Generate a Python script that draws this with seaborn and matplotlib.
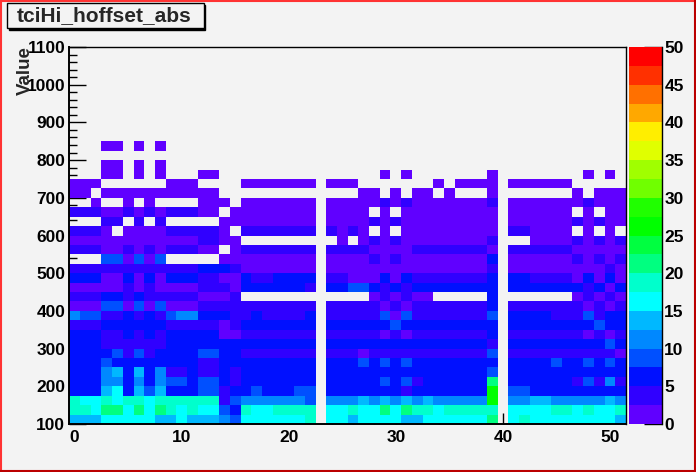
"""tciHi_hoffset_abs occupancy map, drawn with seaborn in the look of a ROOT canvas."""

import matplotlib

matplotlib.use("Agg")

import matplotlib.pyplot as plt
import numpy as np
import pandas as pd
import seaborn as sns
from matplotlib.colors import ListedColormap
from matplotlib.lines import Line2D
from matplotlib.patches import Rectangle

TITLE = "tciHi_hoffset_abs"
Y_LABEL = "Value"

# one colour per 2.5 wide z level, from 0 up to 50
LEVEL_COLORS = [
    "#6000ff", "#3000ff", "#0010ff", "#0050ff", "#0088ff",
    "#00b8ff", "#00ffff", "#00ffcc", "#00ff80", "#00ff40",
    "#00ff00", "#20ff00", "#70ff00", "#a0ff00", "#e0ff00",
    "#ffee00", "#ffa800", "#ff7000", "#ff3000", "#ff0000",
]

# z value read for each letter in the rows below, "." is an empty bin
CELL_VALUES = {"a": 1, "b": 4, "c": 6, "d": 9, "e": 11, "f": 14, "g": 16, "h": 19, "i": 21, "j": 24, "k": 26, ".": np.nan}

X_BINS = list(range(52))
X_TICKS = [0, 10, 20, 30, 40, 50]
X_MINOR = [v for v in range(0, 52, 2) if v % 10]
Y_TICKS = list(range(100, 1101, 100))
Y_MINOR = [v for v in range(100, 1100, 20) if v % 100]
Z_TICKS = list(range(0, 51, 5))

# bin lower edges, top of the picture first
Y_EDGES = list(range(1075, 75, -25))

ROWS = [
    "", "", "", "", "", "", "", "", "", "",
    "...aa.a.a. .......... .......... .......... .......... ..",
    ".......... .......... .......... .......... .......... ..",
    "...aa.a.a. .......... .......... .......... .......... ..",
    "...aa.a.a. ..aa...... .........a .a.......a ........a. a.",
    "aaa......a aa....aaaa aaa.aaa... ....a.aaaa .aaaaaa... ..",
    "aa.aaaaaaa aaaa...... .......aa. a.aa.a...a .......a.a aa",
    "..a..a.a.. ..aaa.aaaa aaa.aaaaab abaaaaaaab .aaaaaaaba aa",
    "bbbaababab bbaa.aaaaa aaa.aaaa.a .aaaaaaaaa .aaaaaa.a. aa",
    "...bb.b.b. ....aaaaaa aaa.aaaaba baaaaaaaaa .aaaaaabab aa",
    "bbba.aaaab bbbba.bbbb bbb.baba.a .aaaaaaaaa .bbaaaa.a. a.",
    "aaaaaaaaaa aabbaa.... .....a.aba baaaaaaaab ...aaaabab ab",
    "bbbaababab bbaa.abbbb bbb.bbbbaa aabbbbbbba .bbbbbbaaa aa",
    "...ddadad. ....aaaaaa aaa.aaaaba baaaaaaaac .aaaaaabab ab",
    "bbbbbbbbbb bbcccbaaaa aaa.aaaaaa aaaaaaaaab .aaaaaaaaa ba",
    "cccaacacac ccbbaacbbc ccc.bbaaac acbbbbbbbc .ccbbbbaca ca",
    "aaaaababaa aabbbacccc ccb.ccddcb cbcccccccc .cccccccbc ac",
    "bbbccbcbbb bbaaab.... ........ab abaa.....c .......aba ba",
    "aaaddadada aabbbbbbbb bbb.bbbbba babbbbbbbc .bbbbbbbab ab",
    "eddbbcbcbd eecccbbcbb bbc.bbbbbd adbbbbbbbd .ccccbbbdb cc",
    "bbbccccccb bbbbabcccc ccc.cccccc dccccccccc .ccccccccd cc",
    "cccbbcbcbc ccccaabbbb bbb.bbbbba babbbbbbbc .bbbbbbbab ab",
    "cccbbbbbbc cccccccccc ccc.cccccc cccccccccb .ccccccccc dc",
    "ccccdbdbcc ccddccbbbb bbb.bbbabb bbbbbbbbbd .bbbbbbbbb ba",
    "cccdcccccc ccbbcccccc ccc.cccdcd cdcccccccc .ccccdccdc dc",
    "cccefcfceb bcbbcbcccc ccc.cccccc cccccccccd .ccccccccc cc",
    "ccceececed dcddcbcccc ccc.cccccd cdbcccccci .ccccccbdb eb",
    "cccfgcfdfc ccddbccdcc cdd.cccccc cbccccccck .ddccccccc cc",
    "hgghghhghh hhhhbdeeee eed.eeefef efefeeeeek .eeffeeeee fe",
    "hhgiigigih ghggdchggh hhh.gghggi gihhghhhhh .gggghhghg gh",
    "fffgggggff gfffedgggg ggh.ggfggg gffggggggi .ghggggggg gf",
]

W, H = 696, 472
BG = "#f3f3f3"
FONT = ["Liberation Sans", "DejaVu Sans"]
LABEL_SIZE = 12.5


def px_rect(x0, y0, x1, y1):
    """Figure fraction [left, bottom, width, height] from pixel corners, y measured from the top."""
    return [x0 / W, 1 - y1 / H, (x1 - x0) / W, (y1 - y0) / H]


def parse_rows():
    """Turn the letter rows into a table of z values, lowest bin first."""
    table = []
    for row in ROWS:
        cells = row.replace(" ", "") or "." * len(X_BINS)
        assert len(cells) == len(X_BINS), row
        table.append([CELL_VALUES[c] for c in cells])
    df = pd.DataFrame(table, index=Y_EDGES, columns=X_BINS)
    return df.sort_index()


def y_pos(value):
    return (value - 100) / 25


def draw_canvas(fig):
    """Title box and the raised red canvas border."""
    for x0, y0, x1, y1, face, edge in [
        (8.5, 4.5, 205, 29.5, "black", "black"),
        (6.5, 2.5, 203.5, 27.5, BG, "black"),
    ]:
        fig.add_artist(Rectangle((x0 / W, 1 - y1 / H), (x1 - x0) / W, (y1 - y0) / H,
                                 transform=fig.transFigure, facecolor=face, edgecolor=edge, linewidth=1))
    fig.text(17 / W, 1 - 15.5 / H, TITLE, fontsize=15, fontweight="bold", va="center", ha="left", family=FONT)

    for xs, ys, color in [
        ((1, 1), (0, H), "#ff3333"),
        ((0, W), (H - 1, H - 1), "#ff3333"),
        ((W - 1, W - 1), (0, H), "#bb0000"),
        ((0, W), (1, 1), "#bb0000"),
    ]:
        fig.add_artist(Line2D(np.array(xs) / W, np.array(ys) / H, color=color, linewidth=1.5,
                              transform=fig.transFigure))


def main():
    data = parse_rows()

    sns.set_theme(style="white")
    plt.rcParams["font.family"] = FONT
    plt.rcParams["axes.facecolor"] = BG
    plt.rcParams["figure.facecolor"] = BG

    fig = plt.figure(figsize=(W / 100, H / 100), dpi=100)
    ax = fig.add_axes(px_rect(69.3, 47, 626, 424))
    cax = fig.add_axes(px_rect(629, 47, 661.5, 424))

    sns.heatmap(data, ax=ax, cbar_ax=cax, cmap=ListedColormap(LEVEL_COLORS), vmin=0, vmax=50,
                xticklabels=False, yticklabels=False, linewidths=0)
    ax.set_xlim(0, len(X_BINS))
    ax.set_ylim(0, len(Y_EDGES))
    ax.set_xlabel("")
    ax.set_ylabel("")

    ax.set_xticks([v + 0.5 for v in X_TICKS])
    ax.set_xticklabels(X_TICKS, fontsize=LABEL_SIZE, fontweight="bold", color="black")
    ax.set_xticks([v + 0.5 for v in X_MINOR], minor=True)
    ax.set_yticks([y_pos(v) for v in Y_TICKS])
    ax.set_yticklabels(Y_TICKS, fontsize=LABEL_SIZE, fontweight="bold", color="black")
    ax.set_yticks([y_pos(v) for v in Y_MINOR], minor=True)
    ax.tick_params(axis="x", which="major", direction="in", length=8, width=1, color="black", pad=4, bottom=True)
    ax.tick_params(axis="x", which="minor", direction="in", length=4, width=1, color="black", bottom=True)
    ax.tick_params(axis="y", which="major", direction="in", length=12.5, width=1, color="black", pad=3, left=True)
    ax.tick_params(axis="y", which="minor", direction="in", length=6, width=1, color="black", left=True)
    for name, spine in ax.spines.items():
        spine.set_visible(True)
        spine.set_color("black")
        spine.set_linewidth(1.4 if name in ("left", "bottom") else 1)

    fig.text(25.5 / W, 1 - 71 / H, Y_LABEL, fontsize=13.5, fontweight="bold", rotation=90,
             va="center", ha="center", family=FONT)

    cax.set_yticks(Z_TICKS)
    cax.set_yticklabels(Z_TICKS, fontsize=LABEL_SIZE, fontweight="bold", color="black")
    cax.tick_params(axis="y", which="both", direction="in", length=13, width=1, color="black",
                    right=True, left=False, labelright=True, labelleft=False, pad=2)
    for name, spine in cax.spines.items():
        spine.set_visible(name == "right")
        spine.set_color("black")
        spine.set_linewidth(1)

    draw_canvas(fig)
    fig.savefig("out.png", dpi=100, facecolor=BG)


if __name__ == "__main__":
    main()
